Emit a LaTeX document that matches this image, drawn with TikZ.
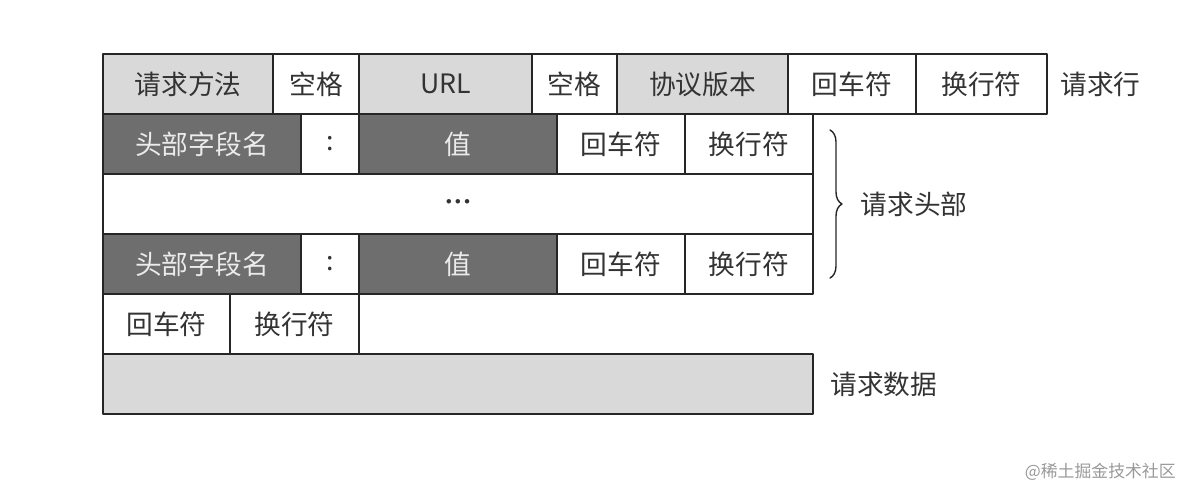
\documentclass[tikz,border=0pt]{standalone}
\usepackage{fontspec}
\newfontfamily\cjk{Noto Sans CJK SC}
\newfontfamily\dejavu{DejaVu Sans}
\usepackage{tikz}
\usetikzlibrary{positioning,decorations.pathreplacing}
\definecolor{lightcell}{HTML}{D9D9D9}
\definecolor{darkcell}{HTML}{6E6E6E}
\definecolor{inktext}{HTML}{333333}

\begin{document}
\begin{tikzpicture}[
	cell/.style={draw=black!85, line width=1.1pt, minimum height=1.5cm, inner sep=0pt, outer sep=0pt, text=inktext, font=\cjk\fontsize{19}{19}\selectfont},
	light/.style={cell, fill=lightcell},
	dark/.style={cell, fill=darkcell, text=white!92!black},
	plain/.style={cell, fill=white},
	tag/.style={text=inktext, inner sep=0pt, font=\cjk\fontsize{19}{19}\selectfont},
	line cap=round,
	line join=round
	]

	% Canvas
	\useasboundingbox (0,0) rectangle (29.6,-12.375);

	% Request line
	\node[light, minimum width=4.25cm, anchor=north west] (method) at (2.575,-1.35) {请求方法};
	\node[plain, minimum width=2.15cm, right=0pt of method] (spA) {空格};
	\node[light, minimum width=4.325cm, right=0pt of spA] (url) {URL};
	\node[plain, minimum width=2.125cm, right=0pt of url] (spB) {空格};
	\node[light, minimum width=4.275cm, right=0pt of spB] (version) {协议版本};
	\node[plain, minimum width=3.2cm, right=0pt of version] (crA) {回车符};
	\node[plain, minimum width=3.275cm, right=0pt of crA] (lfA) {换行符};

	% First header field
	\node[dark, minimum width=4.95cm, below right=0pt and 0pt of method.south west] (nameA) {头部字段名};
	\node[plain, minimum width=1.45cm, right=0pt of nameA] (colonA) {:};
	\node[dark, minimum width=4.95cm, right=0pt of colonA] (valueA) {值};
	\node[plain, minimum width=3.2cm, right=0pt of valueA] (crB) {回车符};
	\node[plain, minimum width=3.2cm, right=0pt of crB] (lfB) {换行符};

	% More header fields
	\node[plain, minimum width=17.75cm, below right=0pt and 0pt of nameA.south west] (more) {{\dejavu\fontsize{11}{11}\selectfont •••}};

	% Last header field
	\node[dark, minimum width=4.95cm, below right=0pt and 0pt of more.south west] (nameB) {头部字段名};
	\node[plain, minimum width=1.45cm, right=0pt of nameB] (colonB) {:};
	\node[dark, minimum width=4.95cm, right=0pt of colonB] (valueB) {值};
	\node[plain, minimum width=3.2cm, right=0pt of valueB] (crC) {回车符};
	\node[plain, minimum width=3.2cm, right=0pt of crC] (lfC) {换行符};

	% Empty line
	\node[plain, minimum width=3.175cm, below right=0pt and 0pt of nameB.south west] (crD) {回车符};
	\node[plain, minimum width=3.225cm, right=0pt of crD] (lfD) {换行符};

	% Body
	\node[light, minimum width=17.75cm, below right=0pt and 0pt of crD.south west] (body) {};

	% Labels
	\node[tag, right=0.325cm of lfA] (lineTag) {请求行};
	\draw[line width=1pt, black!85, decorate, decoration={brace, amplitude=0.3cm}]
		([xshift=0.425cm, yshift=-0.4cm]lfB.north east) -- ([xshift=0.425cm, yshift=0.4cm]lfC.south east)
		node[tag, midway, anchor=west, xshift=0.75cm] (headTag) {请求头部};
	\node[tag, right=0.425cm of body] (bodyTag) {请求数据};

	% Watermark
	\node[anchor=east, inner sep=0pt, text=black!40, font=\cjk\fontsize{12}{12}\selectfont] (mark) at (29.4,-11.8) {@稀土掘金技术社区};

\end{tikzpicture}
\end{document}
